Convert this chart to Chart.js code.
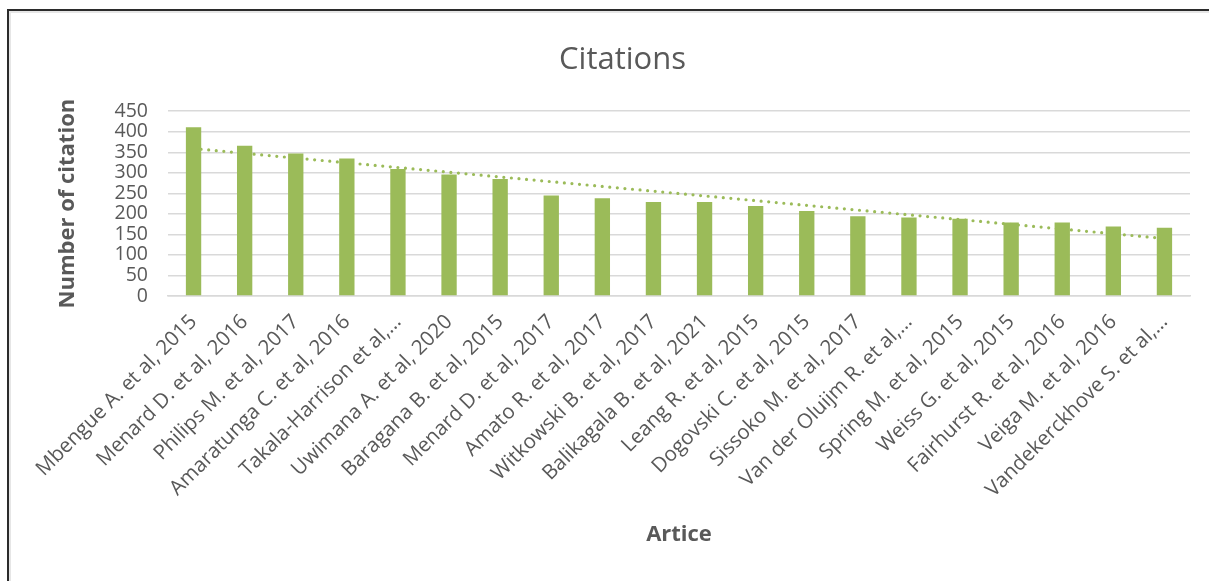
<!DOCTYPE html>
<html>
<head>
<meta charset="utf-8">
<script src="https://cdn.jsdelivr.net/npm/chart.js@4.4.0/dist/chart.umd.min.js"></script>
<style>
  html, body { margin: 0; padding: 0; background: #fff; }
  #wrap { position: relative; width: 1209px; height: 581px; overflow: hidden; }
  #frame { position: absolute; left: 7px; top: 9px; width: 1260px; height: 640px;
           border-left: 2px solid #2b2b2b; border-top: 2px solid #2b2b2b;
           box-shadow: inset 2px 2px 0 #e6e6e6; pointer-events: none; }
  canvas { position: absolute; left: 0; top: 0; }
</style>
</head>
<body>
<div id="wrap">
  <canvas id="c" width="1209" height="581"></canvas>
  <div id="frame"></div>
</div>
<script>
const categories = [
  "Mbengue A. et al, 2015",
  "Menard D. et al, 2016",
  "Philips M. et al, 2017",
  "Amaratunga C. et al, 2016",
  "Takala-Harrison et al,…",
  "Uwimana A. et al, 2020",
  "Baragana B. et al, 2015",
  "Menard D. et al, 2017",
  "Amato R. et al, 2017",
  "Witkowski B. et al, 2017",
  "Balikagala B. et al, 2021",
  "Leang R. et al, 2015",
  "Dogovski C. et al, 2015",
  "Sissoko M. et al, 2017",
  "Van der Oluijm R. et al,…",
  "Spring M. et al, 2015",
  "Weiss G. et al, 2015",
  "Fairhurst R. et al, 2016",
  "Veiga M. et al, 2016",
  "Vandekerckhove S. et al,…"
];
const citations = [411, 366, 347, 335, 309, 296, 285, 245, 238, 229, 229, 219, 207, 194, 191, 188, 179, 179, 169, 166];
// linear trendline end values (intermediate points spanned)
const trendline = [359, null, null, null, null, null, null, null, null, null,
                   null, null, null, null, null, null, null, null, null, 140];
const yTicks = [0, 50, 100, 150, 200, 250, 300, 350, 400, 450];

const textColor = '#595959';
const green = '#9BBB59';
const gridColor = '#D9D9D9';
const fontFamily = '"Open Sans", "Noto Sans", sans-serif';

new Chart(document.getElementById('c'), {
  type: 'bar',
  data: {
    labels: categories,
    datasets: [
      {
        type: 'bar',
        label: 'Citations',
        data: citations,
        backgroundColor: green,
        borderWidth: 0,
        barPercentage: 0.3,
        categoryPercentage: 1.0
      },
      {
        type: 'line',
        label: 'Linear (Citations)',
        data: trendline,
        spanGaps: true,
        borderColor: green,
        borderWidth: 3.2,
        borderDash: [0, 7.6],
        borderCapStyle: 'round',
        pointRadius: 0,
        fill: false,
        tension: 0
      }
    ]
  },
  options: {
    responsive: false,
    animation: false,
    layout: { padding: { left: 55, right: 19, top: 31, bottom: 33 } },
    plugins: {
      legend: { display: false },
      tooltip: { enabled: false },
      title: {
        display: true,
        text: 'Citations',
        color: textColor,
        font: { family: fontFamily, size: 31, weight: 'normal' },
        padding: { top: 11, bottom: 32 }
      }
    },
    scales: {
      x: {
        offset: true,
        grid: { display: false, drawTicks: false },
        border: { display: true, color: gridColor, width: 1.5 },
        ticks: {
          autoSkip: false,
          maxRotation: 45,
          minRotation: 45,
          color: textColor,
          padding: 14,
          font: { family: fontFamily, size: 20.5 }
        },
        title: {
          display: true,
          text: 'Artice',
          color: textColor,
          font: { family: fontFamily, size: 22, weight: 'bold' },
          padding: 0
        },
        afterFit: (s) => { s.height = 252; }
      },
      y: {
        min: 0,
        max: 450,
        afterBuildTicks: (s) => { s.ticks = yTicks.map(v => ({ value: v })); },
        grid: { color: gridColor, lineWidth: 1.5, drawTicks: false },
        border: { display: false },
        ticks: {
          autoSkip: false,
          color: textColor,
          padding: 20,
          font: { family: fontFamily, size: 19.5, lineHeight: 1 }
        },
        title: {
          display: true,
          text: 'Number of citation',
          color: textColor,
          font: { family: fontFamily, size: 22, weight: 'bold' },
          padding: 0
        },
        afterFit: (s) => { s.width = 113; }
      }
    }
  }
});
</script>
</body>
</html>
